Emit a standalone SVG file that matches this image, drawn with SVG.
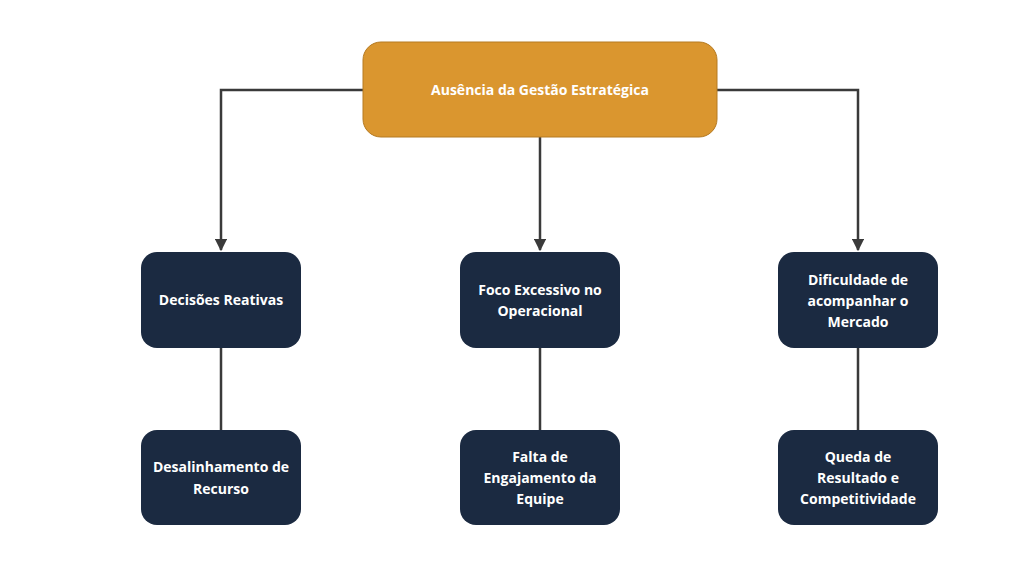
<svg xmlns="http://www.w3.org/2000/svg" width="1024" height="576" viewBox="0 0 1024 576">
<style>
.d{fill:#1b2a41}
.t{font-family:"Open Sans","Noto Sans",sans-serif;font-weight:bold;font-size:14px;fill:#fff;text-anchor:middle}
.c{stroke:#3a3a3a;stroke-width:2.5;fill:none}
</style>
<defs><marker id="a" viewBox="0 0 10 10" refX="9" refY="5" markerWidth="5" markerHeight="5" orient="auto"><path d="M0,0L10,5L0,10z" fill="#3a3a3a"/></marker></defs>
<rect width="1024" height="576" fill="#fff"/>
<g id="connectors">
<path class="c" d="M363,90H221V250" marker-end="url(#a)"/>
<path class="c" d="M717,90H858V250" marker-end="url(#a)"/>
<path class="c" d="M540,137V250" marker-end="url(#a)"/>
<path class="c" d="M221,348V430M540,348V430M858,348V430"/>
</g>
<g id="n0"><rect x="363" y="42" width="354" height="95" rx="18" fill="#da962f" stroke="#b57a22" stroke-width="1"/><text class="t" x="540" y="95">Ausência da Gestão Estratégica</text></g>
<g id="n1"><rect class="d" x="141" y="252" width="160" height="96" rx="16"/><text class="t" x="221" y="305">Decisões Reativas</text></g>
<g id="n2"><rect class="d" x="460" y="252" width="160" height="96" rx="16"/><text class="t" x="540" y="295">Foco Excessivo no</text><text class="t" x="540" y="316">Operacional</text></g>
<g id="n3"><rect class="d" x="778" y="252" width="160" height="96" rx="16"/><text class="t" x="858" y="285">Dificuldade de</text><text class="t" x="858" y="306">acompanhar o</text><text class="t" x="858" y="327">Mercado</text></g>
<g id="n4"><rect class="d" x="141" y="430" width="160" height="95" rx="16"/><text class="t" x="221" y="472">Desalinhamento de</text><text class="t" x="221" y="494">Recurso</text></g>
<g id="n5"><rect class="d" x="460" y="430" width="160" height="95" rx="16"/><text class="t" x="540" y="462">Falta de</text><text class="t" x="540" y="483">Engajamento da</text><text class="t" x="540" y="504">Equipe</text></g>
<g id="n6"><rect class="d" x="778" y="430" width="160" height="95" rx="16"/><text class="t" x="858" y="462">Queda de</text><text class="t" x="858" y="483">Resultado e</text><text class="t" x="858" y="504">Competitividade</text></g>
</svg>
